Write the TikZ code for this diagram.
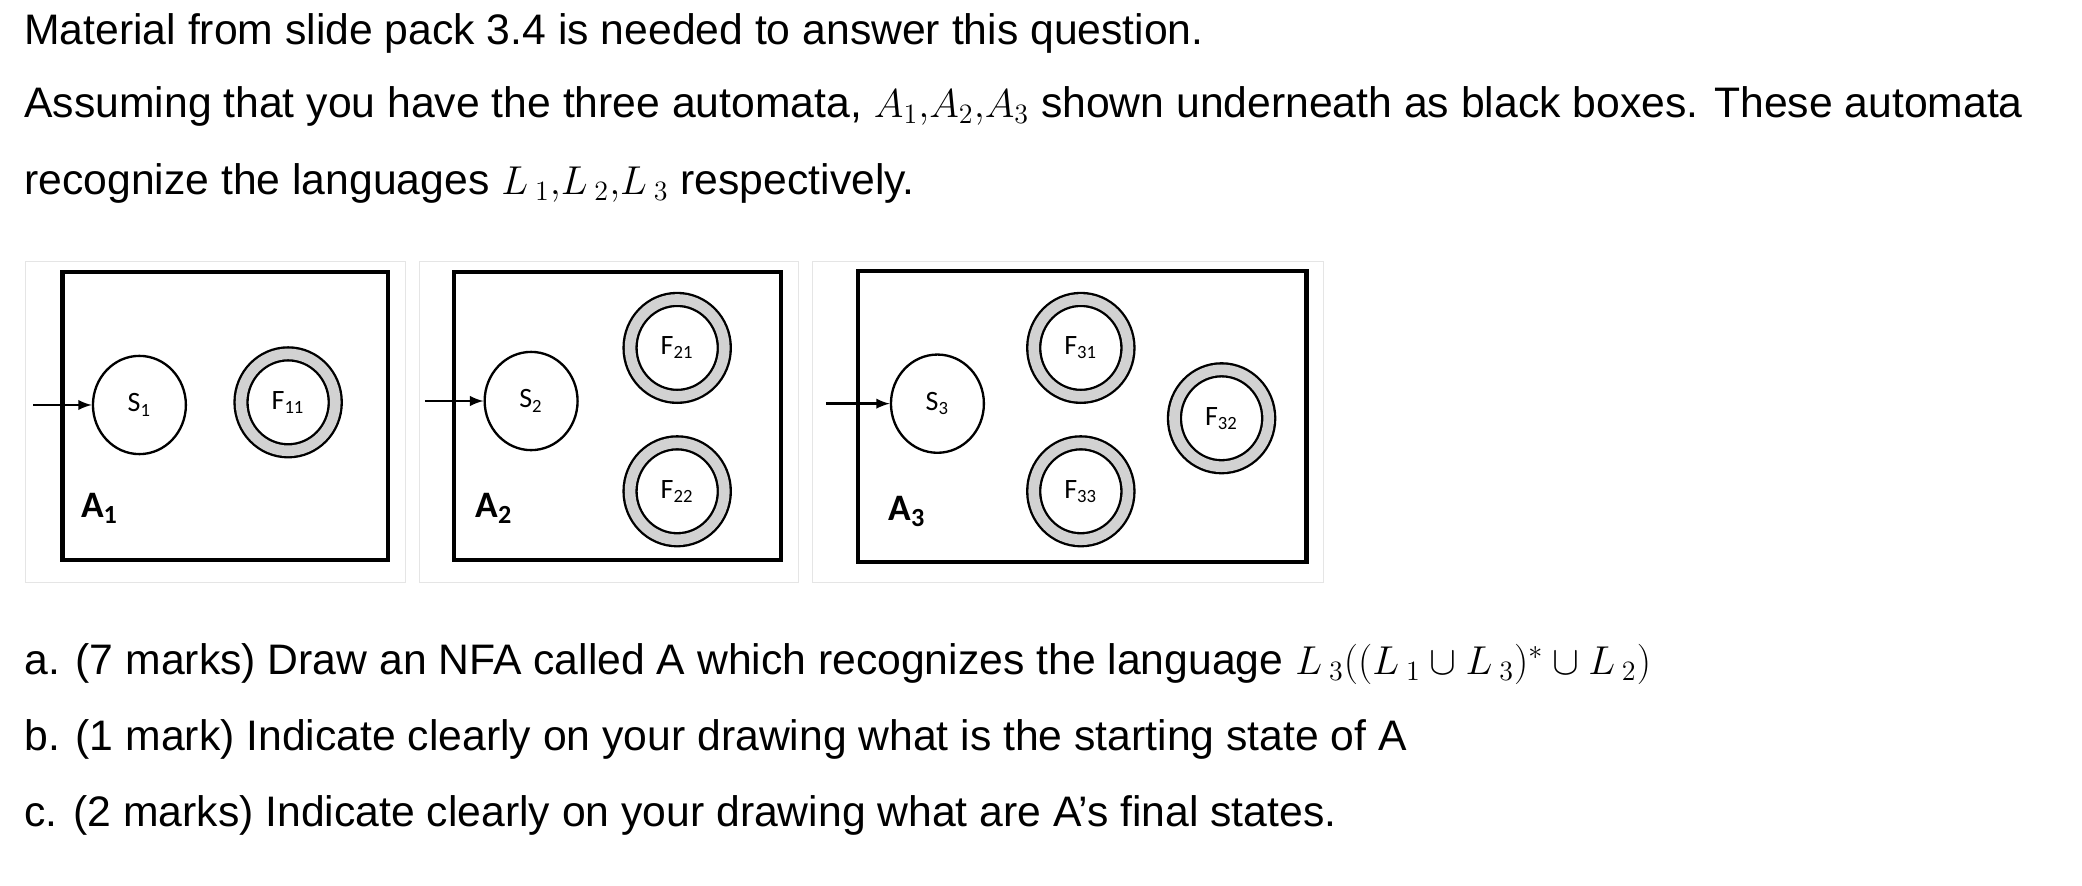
\documentclass[tikz,border=0pt]{standalone}
\usepackage{fontspec}
\setmainfont{Liberation Sans}
\newfontfamily\boxfont{Carlito}
\usetikzlibrary{shapes.geometric, positioning, arrows}
\tikzset{
    >=latex, % filled arrow heads
    every node/.style={inner sep=0pt},
    txt/.style={anchor=west, font=\fontsize{18.3}{22}\selectfont}, % question text
    plain/.style={ellipse, draw, line width=1pt, fill=white, minimum width=1.4cm, minimum height=1.48cm, font=\boxfont\fontsize{12}{13}\selectfont},
    final/.style={ellipse, draw, line width=1pt, double=gray!35, double distance=0.16cm, minimum width=1.42cm, minimum height=1.46cm, font=\boxfont\fontsize{12}{13}\selectfont},
    panel/.style={draw=gray!20, thin},
    blackbox/.style={draw, line width=1.8pt},
    boxname/.style={font=\boxfont\bfseries\fontsize{16}{17}\selectfont},
}
\begin{document}
\begin{tikzpicture}[x=0.02cm, y=-0.02cm]
\useasboundingbox (0,0) rectangle (1568,667);
% question text
\node[txt] (t1) at (18,25) {Material from slide pack 3.4 is needed to answer this question.};
\node[txt] (t2) at (18,80) {Assuming that you have the three automata, $\Large A_1{,}A_2{,}A_3$ shown underneath as black boxes. These automata};
\node[txt] (t3) at (18,138) {recognize the languages $\Large L\,_1{,}L\,_2{,}L\,_3$ respectively.};
% panel frames and black boxes
\draw[panel] (19,197) rectangle (305,439);
\draw[panel] (316,197) rectangle (601,439);
\draw[panel] (612,197) rectangle (997,439);
\draw[blackbox] (47,205) rectangle (292,422);
\draw[blackbox] (342,205) rectangle (588,422);
\draw[blackbox] (646,204) rectangle (984,423);
% A1
\node[plain] (s1) at (105,305) {S\textsubscript{1}};
\node[final] (f11) at (217,303) {F\textsubscript{11}};
\coordinate (i1) at (25,305);
\node[boxname] (a1) at (75,383) {A\textsubscript{1}};
% A2
\node[plain] (s2) at (400,302) {S\textsubscript{2}};
\node[final] (f21) at (510,262) {F\textsubscript{21}};
\node[final] (f22) at (510,370) {F\textsubscript{22}};
\coordinate (i2) at (320,302);
\node[boxname] (a2) at (372,383) {A\textsubscript{2}};
% A3
\node[plain] (s3) at (706,304) {S\textsubscript{3}};
\node[final] (f31) at (814,262) {F\textsubscript{31}};
\node[final] (f32) at (920,315) {F\textsubscript{32}};
\node[final] (f33) at (814,370) {F\textsubscript{33}};
\coordinate (i3) at (622,304);
\node[boxname] (a3) at (683,385) {A\textsubscript{3}};
% start arrows
\draw[-latex, line width=1pt] (i1) -- (s1);
\draw[-latex, line width=1pt] (i2) -- (s2);
\draw[-latex, line width=1pt] (i3) -- (s3);
% parts of the question
\node[txt] (qa) at (18,500) {a. (7 marks) Draw an NFA called A which recognizes the language $\Large L\,_3((L\,_1\cup L\,_3)^*\cup L\,_2)$};
\node[txt] (qb) at (18,557) {b. (1 mark) Indicate clearly on your drawing what is the starting state of A};
\node[txt] (qc) at (18,614) {c. (2 marks) Indicate clearly on your drawing what are A's final states.};
\end{tikzpicture}
\end{document}
